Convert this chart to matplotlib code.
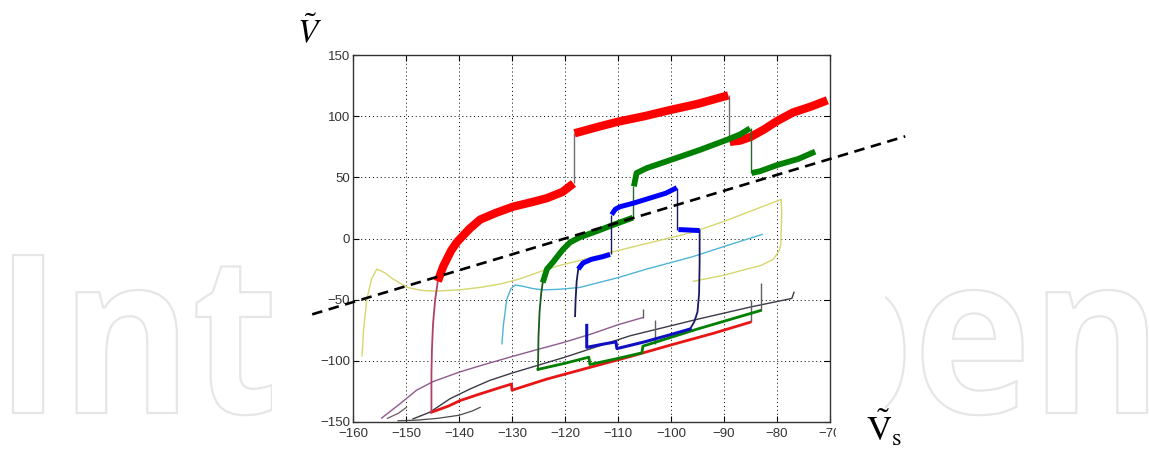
import numpy as np
import matplotlib.pyplot as plt
from matplotlib.textpath import TextPath
from matplotlib.font_manager import FontProperties
from matplotlib.patches import PathPatch, Rectangle
from matplotlib.transforms import Affine2D, Bbox

plt.rcParams['font.family'] = ['Liberation Sans', 'DejaVu Sans']
plt.rcParams['mathtext.fontset'] = 'stix'

nan = np.nan

# --- данные ---
x_ticks = [-160, -150, -140, -130, -120, -110, -100, -90, -80, -70]
y_ticks = [-150, -100, -50, 0, 50, 100, 150]

# красная толстая (шумная) ветка
red_top_x = [-144.0, -143.0, -141.5, -140.4, -138, -136, -133, -129.8, -126, -123.4, -120.5, -118.4, nan,
             -118.2, -114, -110, -105, -100.2, -95, -89.2, nan,
             -88.9, -87, -85, -82.5, -80, -77, -73.5, -70.5]
red_top_y = [-35, -23, -10, -3, 8, 15.5, 21, 26, 30, 33, 38, 45, nan,
             86, 91, 95.5, 100, 105, 110, 117, nan,
             79, 80, 83, 89, 96, 103, 108, 113]
red_stem_x = [-145.2, -145.2, -145.1, -144.9, -144.5, -144.0]
red_stem_y = [-142, -110, -90, -70, -50, -35]
red_low_x = [-145.2, -142, -139.8, -136, -132, -130.1, -130.0, -123.5, -115, -107.7, -100, -92, -85.1]
red_low_y = [-142, -137, -132.5, -127, -121.5, -119, -124, -115, -105, -96.5, -87, -77.5, -68.5]
red_jump_x = [-118.3, -89.1]
red_jump_lo = [45, 79]
red_jump_hi = [86, 117]

# зелёная
green_top_x = [-124.2, -123.4, -122.3, -120.4, -119, -117.2, -114, -111, -107.2, nan,
               -107.0, -106.5, -104.6, -100.2, -94.5, -89.5, -87, -85.1, nan,
               -84.8, -83.2, -80, -76, -72.8]
green_top_y = [-36, -25, -19.5, -9, -3, 1, 6, 11, 17, nan,
               42.6, 53.5, 57.5, 64, 72.5, 80.6, 85, 90, nan,
               53.5, 55, 60, 65, 71]
green_stem_x = [-125.1, -125.0, -124.8, -124.5, -124.2]
green_stem_y = [-107, -80, -60, -45, -36]
green_low_x = [-125.1, -120, -115.5, -115.3, -110, -105.5, -105.3, -95, -83.2]
green_low_y = [-107, -102, -97, -103, -98, -93.5, -88, -74, -59]
green_jump_x = [-107.1, -84.9]
green_jump_lo = [17, 53.5]
green_jump_hi = [42.6, 90]

# синяя петля
blue_top_x = [-117.5, -116.6, -115, -113, -111.5, nan,
              -111.2, -110.5, -109.6, -107, -104, -101, -98.9, nan,
              -98.6, -97, -94.6]
blue_top_y = [-25, -20, -17, -15, -13, nan,
              19.5, 24, 26, 29, 33, 37, 41.5, nan,
              7.3, 7, 6.5]
blue_stem_x = [-118.1, -118.0, -117.8, -117.5]
blue_stem_y = [-63.5, -50, -35, -25]
blue_ret_x = [-94.6, -94.6, -94.7, -95.0, -95.6, -96.4]
blue_ret_y = [6.5, -20, -45, -60, -68, -74]
blue_low_x = [-96.4, -100, -105, -110.2, -110.4, -113, -115.9, -115.9]
blue_low_y = [-74, -78.5, -84.5, -90, -84.5, -86.5, -89, -71]
blue_jump_x = [-111.4, -98.8]
blue_jump_lo = [-13, 7.3]
blue_jump_hi = [19.5, 41.5]

# тонкие линии
purple_x = [-154.6, -151.1, -148, -144.9, -139.8, -136, -130, -125, -120.3, -115, -110, -105.3]
purple_y = [-146.8, -135, -124, -117, -109, -104, -96.5, -90.5, -85, -78, -70.5, -64.6]
dark_x = [-148.7, -145.5, -141.7, -137.9, -134.2, -130, -120, -107.7, -95, -85, -77.2, -76.8]
dark_y = [-147.5, -142, -131, -123, -116, -110, -97, -79.5, -66, -56, -49, -44]
short_x = [-151.5, -148, -144, -140, -137.5, -136]
short_y = [-149, -148.5, -147, -144.5, -141, -138]
curl_x = [-153.5, -151.5, -149.9]
curl_y = [-147, -143, -138]
yellow_x = [-158.3, -158.0, -157.4, -156.5, -155.5, -154, -152.5, -149.8, -147, -144.2, -140, -136,
            -132, -128.5, -124, -121, -117.2, -112, -104.5, -96, -90, -84, -79.2,
            -79.1, -79.3, -79.6, -80.7, -83, -85.7, -90, -95.8]
yellow_y = [-96, -74, -50, -33, -25, -28, -33, -40, -42.5, -43, -42, -40,
            -37, -33, -26, -22, -18, -12, -4, 5, 14, 24, 32,
            20, -5, -10, -17, -22, -25, -30, -35]
cyan_x = [-131.9, -131.6, -131, -130.2, -129.4, -128, -126, -124.1, -121, -117.2, -110, -104.6, -96, -88.9, -82.8]
cyan_y = [-86, -70, -50, -41, -38, -39, -41, -42, -41.5, -40, -32, -25, -15, -5, 3.3]

# короткие серые вертикальные штрихи
tick_x = [-105.2, -103.1, -85.0, -83.1]
tick_lo = [-64.6, -86, -68.5, -59]
tick_hi = [-58, -67, -50, -36]

# пунктирная прямая
dash_x = [-167.7, -55.8]
dash_y = [-62, 83.5]

W, H = 1149, 451
fig = plt.figure(figsize=(W / 100, H / 100), dpi=100)

# водяной знак (контурные буквы)
fp = FontProperties(family='Open Sans', weight='bold')
wm = TextPath((0, 0), 'IntechOpen', size=100, prop=fp)
cap = TextPath((0, 0), 'I', size=100, prop=fp).get_extents()
ext = wm.get_extents()
tr = (Affine2D().translate(-ext.x0, 0)
      .scale((1147 - 13) / ext.width / W, 158 / cap.height / H)
      .translate(13 / W, (H - 413) / H))
fig.add_artist(PathPatch(tr.transform_path(wm), transform=fig.transFigure,
                         facecolor='none', edgecolor='#e6e6e6', lw=1.6, zorder=-5))
# белая подложка самого графика
fig.add_artist(Rectangle((272 / W, 0), (885 - 272) / W, 1, transform=fig.transFigure,
                         facecolor='white', edgecolor='none', zorder=-4))

ax = fig.add_axes([353 / W, (H - 422) / H, (830 - 353) / W, (422 - 55) / H])

# тонкие линии
ax.plot(yellow_x, yellow_y, color='#d6d66e', lw=1.0)
ax.plot(cyan_x, cyan_y, color='#4fb5d5', lw=1.0)
ax.plot(purple_x, purple_y, color='#8e5a8e', lw=1.0)
ax.plot(dark_x, dark_y, color='#3a3a48', lw=1.0)
ax.plot(short_x, short_y, color='#4a4a4a', lw=0.9)
ax.plot(curl_x, curl_y, color='#6a5a6a', lw=0.9)
ax.vlines(tick_x, tick_lo, tick_hi, color='#606060', lw=1.0)

# красная
ax.plot(red_low_x, red_low_y, color='#e81515', lw=2.0)
ax.plot(red_stem_x, red_stem_y, color='#b0406a', lw=1.3)
ax.vlines(red_jump_x, red_jump_lo, red_jump_hi, color='#707070', lw=1.0)
ax.plot(red_top_x, red_top_y, color='#ff0000', lw=6.0, solid_capstyle='butt')

# зелёная
ax.plot(green_low_x, green_low_y, color='#008000', lw=2.0)
ax.plot(green_stem_x, green_stem_y, color='#1a5a1a', lw=1.3)
ax.vlines(green_jump_x, green_jump_lo, green_jump_hi, color='#2a6a2a', lw=1.0)
ax.plot(green_top_x, green_top_y, color='#008000', lw=4.2, solid_capstyle='butt')

# синяя
ax.plot(blue_stem_x, blue_stem_y, color='#1a1a60', lw=1.3)
ax.plot(blue_ret_x, blue_ret_y, color='#1a1a60', lw=1.3)
ax.plot(blue_low_x, blue_low_y, color='#1010c0', lw=2.2)
ax.vlines(blue_jump_x, blue_jump_lo, blue_jump_hi, color='#1a1a60', lw=1.0)
ax.plot(blue_top_x, blue_top_y, color='#0000ff', lw=3.6, solid_capstyle='butt')

# пунктир выходит за рамки осей
ax.plot(dash_x, dash_y, color='k', lw=1.9, dashes=(4, 2.5), clip_on=False, zorder=5)

ax.set_xlim(-160, -70)
ax.set_ylim(-150, 150)
ax.set_xticks(x_ticks)
ax.set_yticks(y_ticks)
ax.grid(True, color='k', linestyle=(0, (1, 3)), lw=0.7)
ax.tick_params(direction='in', top=True, right=True, length=4, width=0.8,
               labelsize=9.5, labelcolor='#333333')
ax.tick_params(axis='x', pad=4.5)
ax.tick_params(axis='y', pad=2)
for s in ax.spines.values():
    s.set_linewidth(1.0)
    s.set_color('#333333')

# подпись -70 обрезана краем картинки
for lbl in ax.get_xticklabels():
    lbl.set_clip_box(Bbox([[0, 0], [836, H]]))
    lbl.set_clip_on(True)

# подписи осей
fig.text(309 / W, 1 - 33 / H, r'$\tilde{V}$', fontsize=24, ha='center', va='center')
fig.text(884 / W, 1 - 428 / H, r'$\tilde{\mathrm{V}}_{\mathrm{s}}$', fontsize=25, ha='center', va='center')

fig.savefig('out.png', dpi=100)
